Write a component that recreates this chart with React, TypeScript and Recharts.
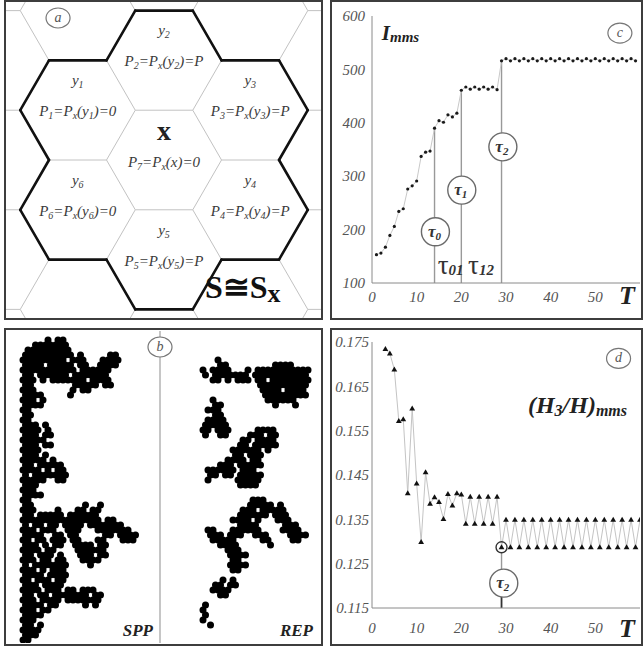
import React from "react";
import { LineChart, Line, ScatterChart, Scatter, XAxis, YAxis, ReferenceLine, ReferenceDot } from "recharts";

const SERIF = '"Liberation Serif", "DejaVu Serif", serif';
const INK = "#333";
const TICK_INK = "#555";
const AXIS = "#8a8a8a";

// ---- panel c : I_mms against T
const cT = [1, 2, 3, 4, 5, 6, 7, 8, 9, 10, 11, 12, 13, 14, 15, 16, 17, 18, 19, 20, 21, 22, 23, 24, 25, 26, 27, 28, 29, 30,
  31, 32, 33, 34, 35, 36, 37, 38, 39, 40, 41, 42, 43, 44, 45, 46, 47, 48, 49, 50, 51, 52, 53, 54, 55, 56, 57, 58, 59];
const cI = [153, 156, 167, 189, 206, 234, 239, 276, 282, 291, 337, 345, 347, 390, 404, 401, 415, 411, 418, 461,
  467, 463, 467, 463, 467, 463, 467, 462, 516, 520, 516, 520, 516, 520, 516, 520, 516, 520, 516, 520,
  516, 520, 516, 520, 516, 520, 516, 520, 516, 520, 516, 520, 516, 520, 516, 520, 516, 520, 516];
const cYTicks = [100, 200, 300, 400, 500, 600];
const cYMinor = [100, 150, 200, 250, 300, 350, 400, 450, 500, 550, 600];

// ---- panel d : (H3/H)_mms against T
const dT = [3, 4, 5, 6, 7, 8, 9, 10, 11, 12, 13, 14, 15, 16, 17, 18, 19, 20, 21, 22, 23, 24, 25, 26, 27, 28, 29, 30,
  31, 32, 33, 34, 35, 36, 37, 38, 39, 40, 41, 42, 43, 44, 45, 46, 47, 48, 49, 50, 51, 52, 53, 54, 55, 56, 57, 58, 59, 60];
const dRatio = [0.1734, 0.1724, 0.1688, 0.1572, 0.1576, 0.1409, 0.16, 0.1431, 0.1299, 0.1456, 0.1385, 0.14, 0.1389, 0.1351,
  0.1407, 0.1381, 0.1409, 0.1406, 0.134, 0.1401, 0.134, 0.1401, 0.134, 0.1401, 0.134, 0.1401, 0.1287, 0.1349,
  0.1287, 0.1349, 0.1287, 0.1349, 0.1287, 0.1349, 0.1287, 0.1349, 0.1287, 0.1349, 0.1287, 0.1349, 0.1287, 0.1349,
  0.1287, 0.1349, 0.1287, 0.1349, 0.1287, 0.1349, 0.1287, 0.1349, 0.1287, 0.1349, 0.1287, 0.1349, 0.1287, 0.1349, 0.1287, 0.1349];
const dYTicks = [0.115, 0.125, 0.135, 0.145, 0.155, 0.165, 0.175];
const dYMinor = [0.115, 0.12, 0.125, 0.13, 0.135, 0.14, 0.145, 0.15, 0.155, 0.16, 0.165, 0.17, 0.175];

const xTicks = [0, 10, 20, 30, 40, 50, 60];
const xMinor = [5, 10, 15, 20, 25, 30, 35, 40, 45, 50, 55];

// ---- panel a : hexagonal neighbourhood
const cellIdx = [1, 2, 3, 4, 5, 6, 7];
const cellArg = ["y", "y", "y", "y", "y", "y", "x"];
const cellP = ["0", "P", "P", "P", "P", "0", "0"];
const cellQ = [-1, 0, 1, 1, 0, -1, 0];
const cellR = [1, 1, 0, -1, -1, 0, 0];

// ---- panel b : clusters, '#' = occupied cell
const sppRows = [
  ".....#.##...............",
  "..#######...............",
  ".#########..............",
  "##########.#.....##.....",
  "#########.###...####....",
  "####.#####.##..####.....",
  "###########.######......",
  "##.######.#######.......",
  "###.#.#######.####......",
  "##........#####.##......",
  "###.......#.##..........",
  "####.....#..............",
  "###.#...................",
  "####....................",
  "##......................",
  "##......................",
  "##......................",
  "###.#...................",
  "####.#..................",
  "###.##..................",
  "#####...................",
  "###.##..................",
  "####....................",
  "###.#...................",
  "#####.#.................",
  "##.#####................",
  "####.#.##...............",
  "#.#######...............",
  "#####..##...............",
  "###.....................",
  "###.....................",
  "####....................",
  "##......................",
  "##..........#..#........",
  "###....#...##.##........",
  "##.#####.######.........",
  "################.##.....",
  "#.##.##.####.#######....",
  "###.###..###...#######..",
  "####..##.##.....##.####.",
  "##.##.###.##...##...###.",
  "###.#.##..####.##.......",
  "####.##....######.......",
  "##.###.#...###.##.......",
  "###.##.##...####........",
  "#.#######....#..........",
  "###.#.###...............",
  "####.####...............",
  "##.###.##...............",
  "###.####................",
  "####.###.##.###.........",
  "##.##.#######.##........",
  "###.####.#######........",
  "####.##.....#.#.........",
  "###.##..................",
  "####....................",
  "###.....................",
  "##.#....................",
  "####....................",
  "###.....................",
  "##......................",
];
const repRows = [
  "......................",
  "...#..................",
  "...##.........####....",
  "#.####...#.###########",
  "#.#######.###########.",
  "..##.#.###.##.########",
  "...........##########.",
  "............####.####.",
  "............#########.",
  "..#..........######...",
  "..##..........#...#...",
  ".###..................",
  "..##..................",
  ".####.................",
  "#####.................",
  "##.###.....####.......",
  "#..##....###.##.......",
  "........##.####.......",
  ".......##.#####.......",
  "......######.#........",
  "......##.###..........",
  ".....####.##..........",
  "...###.#####..........",
  ".######.###...........",
  ".##.##.#####..........",
  ".#.....#####..........",
  ".......####...........",
  "......................",
  "......................",
  "..........###.........",
  ".........#####.#......",
  "........###.#####.....",
  ".......######.###.....",
  "......####.#...###....",
  ".......####.....###...",
  ".##...######....####..",
  ".###.###..###....####.",
  "..#####.....##....##..",
  "...####......#........",
  ".....###..............",
  ".....####.............",
  "......##..............",
  ".....####.............",
  "......##..............",
  "......................",
  "....#.#...............",
  "..##.##...............",
  "..####................",
  "...##.................",
  "......................",
  "#.....................",
  "#.....................",
  "#.....................",
  "#.....................",
  ".#....................",
];

function rich(parts: [string, boolean][], subSize: number, shift: number, subStyle: any = {}) {
  let cur = false;
  return parts.map(([s, sub], i) => {
    const dy = sub === cur ? 0 : sub ? shift : -shift;
    cur = sub;
    return (
      <tspan key={i} dy={dy} fontSize={sub ? subSize : undefined} {...(sub ? subStyle : {})}>
        {s}
      </tspan>
    );
  });
}

const PanelTag = ({ cx, cy, letter }: any) => (
  <g>
    <ellipse cx={cx} cy={cy} rx={12} ry={10} fill="#fff" stroke="#777" strokeWidth={1.2} />
    <text x={cx} y={cy + 4} textAnchor="middle" fontFamily={SERIF} fontStyle="italic" fontSize={14} fill="#555">
      {letter}
    </text>
  </g>
);

const TauCircle = ({ cx, cy, sub }: any) => (
  <g>
    <circle cx={cx} cy={cy} r={14} fill="#fff" stroke="#6a6a6a" strokeWidth={1.4} />
    <text x={cx - 1} y={cy + 5} textAnchor="middle" fontFamily={SERIF} fontStyle="italic" fontWeight="bold" fontSize={17} fill={INK}>
      {rich([["τ", false], [sub, true]], 11, 3)}
    </text>
  </g>
);

const TauLabel = ({ cx, cy, sub }: any) => (
  <text x={cx} y={cy} fontFamily={SERIF} fontSize={27} fill={INK}>
    {rich([["τ", false], [sub, true]], 15, 1, { fontWeight: "bold", fontStyle: "italic" })}
  </text>
);

const XTick = ({ x, y, payload, tDy }: any) =>
  payload.value === 60 ? (
    <text x={x - 6} y={y} dy={tDy} textAnchor="middle" fontFamily={SERIF} fontStyle="italic" fontWeight="bold" fontSize={26} fill="#222">
      T
    </text>
  ) : (
    <text x={x} y={y} dy="0.71em" textAnchor="middle" fontFamily={SERIF} fontStyle="italic" fontSize={15} fill={TICK_INK}>
      {payload.value}
    </text>
  );

const YTick = ({ x, y, payload, digits }: any) => (
  <text x={x} y={y} dy="0.35em" textAnchor="end" fontFamily={SERIF} fontStyle="italic" fontSize={15} fill={TICK_INK}>
    {digits ? payload.value.toFixed(digits) : payload.value}
  </text>
);

function PanelC() {
  const data = cT.map((t, i) => ({ t, v: cI[i] }));
  return (
    <LineChart width={309} height={316} data={data} margin={{ top: 14, right: 1, left: 0, bottom: 0 }}>
      <XAxis xAxisId="minor" dataKey="t" type="number" domain={[0, 60]} allowDataOverflow ticks={xMinor} mirror tick={false} axisLine={false} tickSize={5} height={0} stroke={AXIS} />
      <XAxis xAxisId="main" dataKey="t" type="number" domain={[0, 60]} allowDataOverflow ticks={xTicks} tick={<XTick tDy="0.5em" />} tickLine={false} tickSize={0} tickMargin={8} height={35} stroke={AXIS} />
      <YAxis yAxisId="l" type="number" domain={[100, 600]} ticks={cYTicks} tick={<YTick />} tickLine={false} tickSize={0} tickMargin={7} width={40} stroke={AXIS} />
      <YAxis yAxisId="r" orientation="right" type="number" domain={[100, 600]} ticks={cYMinor} mirror width={0} tick={false} axisLine={false} tickSize={4} stroke={AXIS} />
      <ReferenceLine xAxisId="main" yAxisId="l" segment={[{ x: 14, y: 390 }, { x: 14, y: 100 }]} stroke="#999" strokeWidth={1.4} />
      <ReferenceLine xAxisId="main" yAxisId="l" segment={[{ x: 20, y: 461 }, { x: 20, y: 100 }]} stroke="#999" strokeWidth={1.4} />
      <ReferenceLine xAxisId="main" yAxisId="l" segment={[{ x: 29, y: 516 }, { x: 29, y: 100 }]} stroke="#999" strokeWidth={1.4} />
      <Line xAxisId="main" yAxisId="l" dataKey="v" stroke="#c8c8c8" strokeWidth={1} isAnimationActive={false} activeDot={false}
        dot={{ r: 1.6, fill: "#1a1a1a", stroke: "none" }} />
      <ReferenceDot xAxisId="main" yAxisId="l" x={14.2} y={196} shape={(p: any) => <TauCircle cx={p.cx} cy={p.cy} sub="0" />} />
      <ReferenceDot xAxisId="main" yAxisId="l" x={20.1} y={274} shape={(p: any) => <TauCircle cx={p.cx} cy={p.cy} sub="1" />} />
      <ReferenceDot xAxisId="main" yAxisId="l" x={29.3} y={355} shape={(p: any) => <TauCircle cx={p.cx} cy={p.cy} sub="2" />} />
      <ReferenceDot xAxisId="main" yAxisId="l" x={14.7} y={116} shape={(p: any) => <TauLabel cx={p.cx} cy={p.cy} sub="01" />} />
      <ReferenceDot xAxisId="main" yAxisId="l" x={21.5} y={116} shape={(p: any) => <TauLabel cx={p.cx} cy={p.cy} sub="12" />} />
      <ReferenceDot xAxisId="main" yAxisId="l" x={2.2} y={555} shape={(p: any) => (
        <text x={p.cx} y={p.cy} fontFamily={SERIF} fontStyle="italic" fontWeight="bold" fontSize={21} fill="#222">
          {rich([["I", false], ["mms", true]], 15, 2)}
        </text>
      )} />
      <ReferenceDot xAxisId="main" yAxisId="l" x={55.5} y={568} shape={(p: any) => <PanelTag cx={p.cx} cy={p.cy} letter="c" />} />
    </LineChart>
  );
}

const Tri = (p: any) => (
  <path key={`tri-${p.index}`} d={`M${p.cx},${p.cy - 3} L${p.cx + 2.9},${p.cy + 2} L${p.cx - 2.9},${p.cy + 2} Z`} fill="#111" />
);

function PanelD() {
  const data = dT.map((t, i) => ({ t, v: dRatio[i] }));
  return (
    <LineChart width={309} height={312} data={data} margin={{ top: 11, right: 1, left: 0, bottom: 0 }}>
      <XAxis xAxisId="minor" dataKey="t" type="number" domain={[0, 60]} allowDataOverflow ticks={xMinor} mirror tick={false} axisLine={false} tickSize={5} height={0} stroke={AXIS} />
      <XAxis xAxisId="main" dataKey="t" type="number" domain={[0, 60]} allowDataOverflow ticks={xTicks} tick={<XTick tDy="0.56em" />} tickLine={false} tickSize={0} tickMargin={14} height={35} stroke={AXIS} />
      <YAxis yAxisId="l" type="number" domain={[0.115, 0.175]} allowDataOverflow ticks={dYTicks} tick={<YTick digits={3} />} tickLine={false} tickSize={0} tickMargin={3} width={40} stroke={AXIS} />
      <YAxis yAxisId="r" orientation="right" type="number" domain={[0.115, 0.175]} allowDataOverflow ticks={dYMinor} mirror width={0} tick={false} axisLine={false} tickSize={4} stroke={AXIS} />
      <ReferenceLine xAxisId="main" yAxisId="l" segment={[{ x: 29, y: 0.1275 }, { x: 29, y: 0.1206 }]} stroke="#999" strokeWidth={1.4} />
      <ReferenceLine xAxisId="main" yAxisId="l" segment={[{ x: 29, y: 0.1206 }, { x: 29, y: 0.115 }]} stroke="#333" strokeWidth={1.8} />
      <Line xAxisId="main" yAxisId="l" dataKey="v" stroke="#c4c4c4" strokeWidth={1} isAnimationActive={false} activeDot={false} dot={Tri} />
      <ReferenceDot xAxisId="main" yAxisId="l" x={29} y={0.1287} r={5.5} fill="none" stroke="#333" strokeWidth={1.4} />
      <ReferenceDot xAxisId="main" yAxisId="l" x={29.5} y={0.1206} shape={(p: any) => <TauCircle cx={p.cx} cy={p.cy} sub="2" />} />
      <ReferenceDot xAxisId="main" yAxisId="l" x={57.1} y={0.159} shape={(p: any) => (
        <text x={p.cx} y={p.cy} textAnchor="end" fontFamily={SERIF} fontStyle="italic" fontWeight="bold" fontSize={24} fill="#222">
          {rich([["(H", false], ["3", true], ["/H)", false], ["mms", true]], 16, 3)}
        </text>
      )} />
      <ReferenceDot xAxisId="main" yAxisId="l" x={55.2} y={0.1713} shape={(p: any) => <PanelTag cx={p.cx} cy={p.cy} letter="d" />} />
    </LineChart>
  );
}

// flat-top hexagons, unit circumradius, y pointing up
const SQ3 = Math.sqrt(3);
const hexCenter = (q: number, r: number) => ({ x: 1.5 * q, y: SQ3 * (r + q / 2) });
const hexEdge = (c: { x: number; y: number }, i: number) => {
  const a0 = (i * Math.PI) / 3;
  const a1 = ((i + 1) * Math.PI) / 3;
  return [
    { x: c.x + Math.cos(a0), y: c.y + Math.sin(a0) },
    { x: c.x + Math.cos(a1), y: c.y + Math.sin(a1) },
  ];
};

function PanelA() {
  const cells = cellIdx.map((idx, i) => ({ idx, arg: cellArg[i], p: cellP[i], ...hexCenter(cellQ[i], cellR[i]) }));
  const grid: { x: number; y: number }[][] = [];
  for (let q = -3; q <= 3; q++)
    for (let r = -5; r <= 5; r++) {
      const c = hexCenter(q, r);
      if (Math.abs(c.x) > 4.5 || Math.abs(c.y) > 4.5) continue;
      for (let i = 0; i < 3; i++) grid.push(hexEdge(c, i));
    }
  const inFlower = (x: number, y: number) => cells.some((c) => Math.hypot(c.x - x, c.y - y) < 0.1);
  const outline: { x: number; y: number }[][] = [];
  cells.forEach((c) => {
    for (let i = 0; i < 6; i++) {
      const n = (Math.PI / 6) + (i * Math.PI) / 3;
      if (!inFlower(c.x + SQ3 * Math.cos(n), c.y + SQ3 * Math.sin(n))) outline.push(hexEdge(c, i));
    }
  });

  const label = (p: any) => {
    const { cx, cy, payload: d } = p;
    const isX = d.arg === "x";
    const pText: [string, boolean][] = isX
      ? [["P", false], [String(d.idx), true], ["=P", false], ["x", true], ["(x)=", false], [d.p, false]]
      : [["P", false], [String(d.idx), true], ["=P", false], ["x", true], ["(y", false], [String(d.idx), true], [")=", false], [d.p, false]];
    return (
      <g>
        {isX ? (
          <text x={cx} y={cy - 20} textAnchor="middle" fontFamily={SERIF} fontWeight="bold" fontSize={28} fill="#222">x</text>
        ) : (
          <text x={cx} y={cy - 25} textAnchor="middle" fontFamily={SERIF} fontStyle="italic" fontSize={15} fill="#3a3a3a">
            {rich([["y", false], [String(d.idx), true]], 10, 3)}
          </text>
        )}
        <text x={cx} y={cy + (isX ? 7 : 6)} textAnchor="middle" fontFamily={SERIF} fontStyle="italic" fontSize={15} fill="#3a3a3a">
          {rich(pText, 10, 3)}
        </text>
      </g>
    );
  };

  return (
    <ScatterChart width={315} height={316} margin={{ top: 0, right: 0, bottom: 0, left: 0 }}>
      <XAxis dataKey="x" type="number" domain={[-2.748, 2.73]} allowDataOverflow hide />
      <YAxis dataKey="y" type="number" domain={[-2.748, 2.748]} allowDataOverflow hide />
      {grid.map((s, i) => (
        <ReferenceLine key={`g${i}`} segment={s} ifOverflow="visible" stroke="#c2c2c2" strokeWidth={1} />
      ))}
      {outline.map((s, i) => (
        <ReferenceLine key={`o${i}`} segment={s} ifOverflow="visible" stroke="#111" strokeWidth={2.6} strokeLinecap="round" />
      ))}
      <Scatter data={cells} isAnimationActive={false} shape={label} />
      <ReferenceDot x={-1.843} y={2.47} shape={(p: any) => <PanelTag cx={p.cx} cy={p.cy} letter="a" />} />
      <ReferenceDot x={0.713} y={-2.4} shape={(p: any) => (
        <text x={p.cx} y={p.cy} fontFamily={SERIF} fontWeight="bold" fontSize={32} fill="#111">
          {rich([["S≅S", false], ["x", true]], 26, 4)}
        </text>
      )} />
    </ScatterChart>
  );
}

function parseCells(rows: string[], colOff: number, rowOff: number) {
  const out: { gx: number; gy: number }[] = [];
  rows.forEach((row, r) => {
    const gr = r + rowOff;
    for (let c = 0; c < row.length; c++)
      if (row[c] === "#") out.push({ gx: c + colOff + (gr % 2) * 0.5, gy: gr });
  });
  return out;
}

function PanelB() {
  const spp = parseCells(sppRows, 0, 0);
  const rep = parseCells(repRows, 36, 3);
  const cell = (p: any) => <circle cx={p.cx} cy={p.cy} r={3.5} fill="#000" />;
  return (
    <ScatterChart width={315} height={312} margin={{ top: 0, right: 0, bottom: 0, left: 0 }}>
      <XAxis dataKey="gx" type="number" domain={[-3.4, 59.6]} allowDataOverflow hide />
      <YAxis dataKey="gy" type="number" domain={[-1.8, 60.6]} reversed allowDataOverflow hide />
      <ReferenceLine x={27.4} stroke="#a0a0a0" strokeWidth={1.2} />
      <Scatter data={spp} isAnimationActive={false} shape={cell} />
      <Scatter data={rep} isAnimationActive={false} shape={cell} />
      <ReferenceDot x={27.4} y={1.4} shape={(p: any) => <PanelTag cx={p.cx} cy={p.cy} letter="b" />} />
      <ReferenceDot x={26} y={59.2} shape={(p: any) => (
        <text x={p.cx} y={p.cy} textAnchor="end" fontFamily={SERIF} fontStyle="italic" fontWeight="bold" fontSize={17} fill="#222">SPP</text>
      )} />
      <ReferenceDot x={58} y={59.2} shape={(p: any) => (
        <text x={p.cx} y={p.cy} textAnchor="end" fontFamily={SERIF} fontStyle="italic" fontWeight="bold" fontSize={17} fill="#222">REP</text>
      )} />
    </ScatterChart>
  );
}

const frames = [
  { left: 4, top: 0, width: 319, height: 320 },
  { left: 330, top: 0, width: 313, height: 320 },
  { left: 4, top: 328, width: 319, height: 318 },
  { left: 330, top: 328, width: 313, height: 318 },
];

export default function App() {
  return (
    <div style={{ position: "absolute", left: 0, top: 0, width: 644, height: 646, background: "#fff", overflow: "hidden" }}>
      <div style={{ position: "absolute", left: 6, top: 2 }}><PanelA /></div>
      <div style={{ position: "absolute", left: 6, top: 331 }}><PanelB /></div>
      <div style={{ position: "absolute", left: 332, top: 2 }}><PanelC /></div>
      <div style={{ position: "absolute", left: 332, top: 331 }}><PanelD /></div>
      {frames.map((f, i) => (
        <div key={i} style={{ position: "absolute", ...f, border: "2px solid #3d3d3d", boxSizing: "border-box", pointerEvents: "none" }} />
      ))}
    </div>
  );
}
